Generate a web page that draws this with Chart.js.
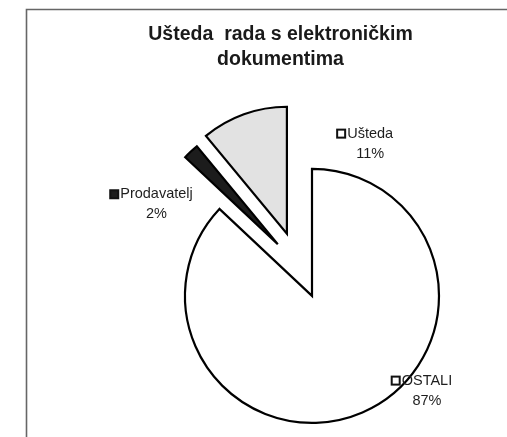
<!DOCTYPE html>
<html>
<head>
<meta charset="utf-8">
<script src="https://cdn.jsdelivr.net/npm/chart.js@4/dist/chart.umd.min.js"></script>
<style>
  html, body { margin: 0; padding: 0; background: #ffffff; }
  canvas { display: block; }
</style>
</head>
<body>
<canvas id="c" width="507" height="437"></canvas>
<script>
// ---- data ----
const categories = ['OSTALI', 'Prodavatelj', 'Ušteda'];
const values = [87, 2, 11];
const titleLines = ['Ušteda  rada s elektroničkim', 'dokumentima'];

// ---- styling / layout ----
const sliceColors = ['#ffffff', '#1c1c1c', '#e2e2e2'];
const keyColors = ['#ffffff', '#1c1c1c', '#ffffff'];
const explodeDistances = [0, 62, 67];
const explodeDirections = [null, 326.5, 338];  // degrees clockwise from 12 o'clock (null = mid-angle)
const labelAngles = [129.5, 300.5, 20.9];      // degrees clockwise from 12 o'clock
const labelDistances = [1.173, 1.421, 1.283];  // in units of pie radius
const FONT = "'Liberation Sans', Arial, sans-serif";

Chart.defaults.font.family = FONT;

// Pie controller whose slices are pulled straight out (exploded)
class ExplodedPieController extends Chart.PieController {
  updateElements(arcs, start, count, mode) {
    super.updateElements(arcs, start, count, mode);
    const ds = this.getDataset();
    const dist = ds.explode || [];
    const dirs = ds.explodeDirection || [];
    for (let i = start; i < start + count; i++) {
      const arc = arcs[i];
      const d = dist[i] || 0;
      if (!d) continue;
      const ang = (dirs[i] == null)
        ? (arc.startAngle + arc.endAngle) / 2
        : (dirs[i] - 90) * Math.PI / 180;
      arc.x += Math.cos(ang) * d;
      arc.y += Math.sin(ang) * d;
    }
  }
}
ExplodedPieController.id = 'explodedPie';
Chart.register(ExplodedPieController);

// invisible left layout box so the pie sits right of the title's centre
const leftSpacer = {
  id: 'leftSpacer',
  beforeInit(chart) {
    Chart.layouts.addBox(chart, {
      position: 'left', fullSize: false, weight: 0, options: {},
      left: 0, top: 0, right: 0, bottom: 0, width: 0, height: 0,
      isHorizontal() { return false; },
      update(maxWidth, maxHeight) { this.width = 63; this.height = maxHeight; },
      draw() {}
    });
  }
};

const frame = {
  id: 'frame',
  beforeDraw(chart) {
    const ctx = chart.ctx;
    ctx.save();
    ctx.fillStyle = '#ffffff';
    ctx.fillRect(0, 0, chart.width, chart.height);
    ctx.strokeStyle = '#666666';
    ctx.lineWidth = 1.6;
    ctx.beginPath();
    ctx.moveTo(26.5, chart.height);
    ctx.lineTo(26.5, 9.5);
    ctx.lineTo(chart.width, 9.5);
    ctx.stroke();
    ctx.restore();
  }
};

const sliceLabels = {
  id: 'sliceLabels',
  afterDatasetsDraw(chart) {
    const meta = chart.getDatasetMeta(0);
    const { ctx, chartArea } = chart;
    const cx = (chartArea.left + chartArea.right) / 2;
    const cy = (chartArea.top + chartArea.bottom) / 2;
    const total = values.reduce((a, b) => a + b, 0);
    ctx.save();
    ctx.font = '14.5px ' + FONT;
    ctx.textAlign = 'center';
    ctx.textBaseline = 'middle';
    meta.data.forEach((arc, i) => {
      const r = arc.outerRadius * labelDistances[i];
      const a = labelAngles[i] * Math.PI / 180;
      const x = cx + Math.sin(a) * r;
      const y = cy - Math.cos(a) * r;
      const name = categories[i];
      const pct = Math.round(values[i] / total * 100) + '%';
      const w = ctx.measureText(name).width;
      ctx.fillStyle = '#1e1e1e';
      ctx.fillText(name, x, y - 10);
      ctx.fillText(pct, x, y + 10);
      const ks = 8;
      const kx = x - w / 2 - ks - 2;
      const ky = y - 10 - ks / 2;
      ctx.fillStyle = keyColors[i];
      ctx.fillRect(kx, ky, ks, ks);
      ctx.lineWidth = 2;
      ctx.strokeStyle = '#111111';
      ctx.strokeRect(kx, ky, ks, ks);
    });
    ctx.restore();
  }
};

new Chart(document.getElementById('c'), {
  type: 'explodedPie',
  data: {
    labels: categories,
    datasets: [{
      data: values,
      backgroundColor: sliceColors,
      borderColor: '#000000',
      borderWidth: 2.2,
      borderJoinStyle: 'miter',
      explode: explodeDistances,
      explodeDirection: explodeDirections,
      radius: 127,
      clip: false
    }]
  },
  options: {
    responsive: false,
    animation: false,
    events: [],
    layout: { padding: { left: 54, top: 10, right: 0, bottom: 0 } },
    plugins: {
      legend: { display: false },
      tooltip: { enabled: false },
      title: {
        display: true,
        text: titleLines,
        color: '#1a1a1a',
        font: { family: FONT, size: 19.5, weight: 'bold', lineHeight: 1.3 },
        padding: { top: 12, bottom: 82 }
      }
    }
  },
  plugins: [leftSpacer, frame, sliceLabels]
});
</script>
</body>
</html>
